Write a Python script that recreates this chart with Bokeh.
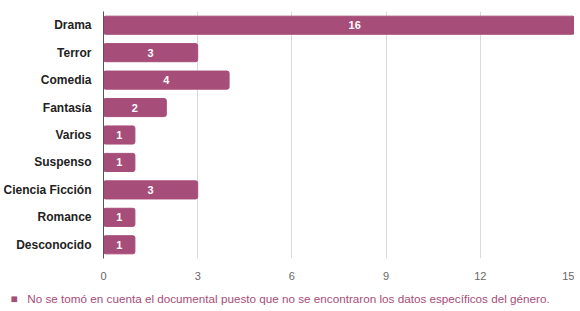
from bokeh.plotting import figure
from bokeh.models import ColumnDataSource, Range1d, FixedTicker, FactorRange, Title
from bokeh.embed import file_html
from bokeh.resources import INLINE
from bokeh.core.properties import value

generos = ["Drama", "Terror", "Comedia", "Fantasía", "Varios", "Suspenso", "Ciencia Ficción", "Romance", "Desconocido"]
cantidades = [16, 3, 4, 2, 1, 1, 3, 1, 1]
x_ticks = [0, 3, 6, 9, 12, 15]
nota = "No se tomó en cuenta el documental puesto que no se encontraron los datos específicos del género."

color = "#a64d79"

src = ColumnDataSource(dict(
    g=generos,
    v=cantidades,
    mid=[c / 2 for c in cantidades],
    lab=[str(c) for c in cantidades],
))

p = figure(width=574, height=311, output_backend="svg", toolbar_location=None,
           y_range=FactorRange(*reversed(generos), range_padding=0),
           x_range=Range1d(0, 15),
           min_border_left=103, min_border_right=0, min_border_top=11, min_border_bottom=52)
p.outline_line_color = None

bars = p.hbar(y="g", right="v", left=0, height=0.66, source=src, fill_color=color,
              line_color=color, border_radius=2)
p.text(x="mid", y="g", text="lab", source=src, text_color="white", text_font=value("Liberation Sans"),
       text_font_style="bold", text_font_size="11px", text_align="center", text_baseline="middle")

p.xgrid.ticker = FixedTicker(ticks=x_ticks)
p.xgrid.grid_line_color = "#d9d9d9"
p.ygrid.grid_line_color = None

p.xaxis.ticker = FixedTicker(ticks=x_ticks)
p.xaxis.axis_line_color = None
p.xaxis.major_tick_line_color = None
p.xaxis.minor_tick_line_color = None
p.xaxis.major_label_text_color = "#666666"
p.xaxis.major_label_text_font = "Liberation Sans"
p.xaxis.major_label_text_font_size = "11px"
p.xaxis.major_label_standoff = 7

p.yaxis.axis_line_color = "#555555"
p.yaxis.major_tick_line_color = None
p.yaxis.minor_tick_line_color = None
p.yaxis.major_label_text_color = "#222222"
p.yaxis.major_label_text_font = "Liberation Sans"
p.yaxis.major_label_text_font_style = "bold"
p.yaxis.major_label_text_font_size = "12px"
p.yaxis.major_label_standoff = 6

note = Title(text="■\u00a0\u00a0\u00a0" + nota, align="left", offset=-93, standoff=14, text_color=color,
             text_font="Liberation Sans", text_font_size="11.7px", text_font_style="normal")
p.add_layout(note, "below")

open("out.html", "w").write(file_html(p, INLINE))
